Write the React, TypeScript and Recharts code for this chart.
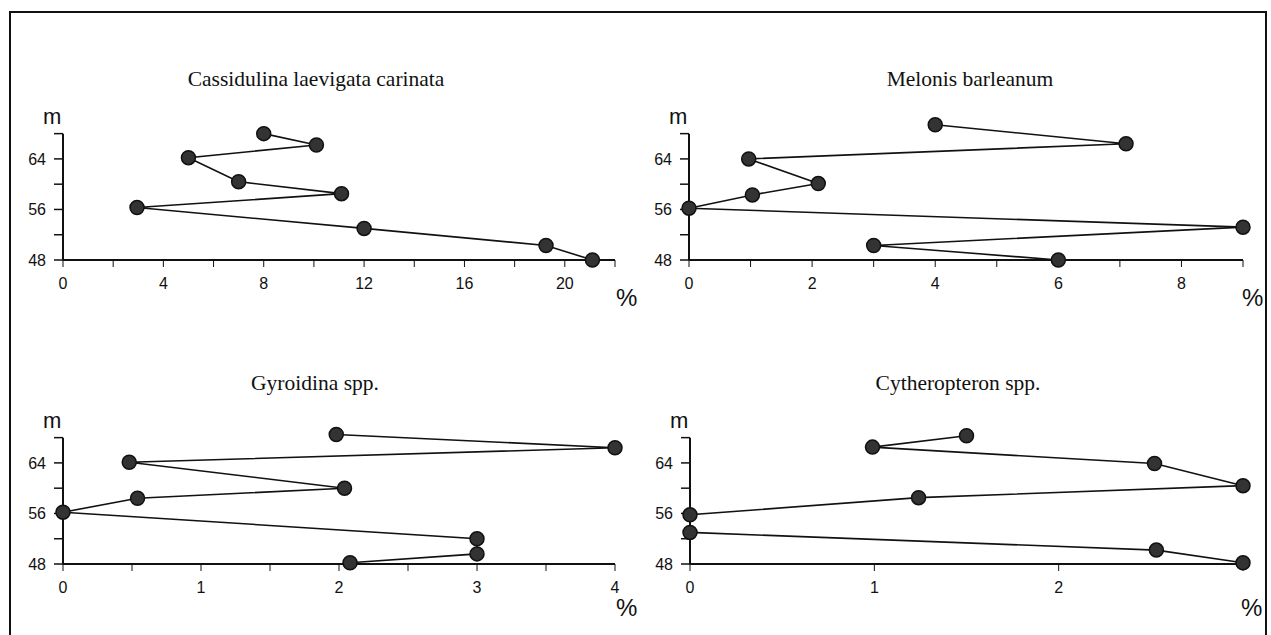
import React from "react"
import { LineChart, Line, XAxis, YAxis, ReferenceLine } from "recharts"

// depth (m) and percentage for each taxon, top sample first
const cassidulinaDepth = [68, 66.2, 64.2, 60.4, 58.5, 56.3, 53, 50.3, 48]
const cassidulinaPct = [8, 10.1, 5, 7, 11.1, 2.95, 12, 19.25, 21.1]

const melonisDepth = [69.4, 66.4, 64, 60.1, 58.3, 56.2, 53.2, 50.3, 48]
const melonisPct = [4, 7.1, 0.97, 2.1, 1.03, 0, 9, 3, 6]

const gyroidinaDepth = [68.5, 66.4, 64.1, 60, 58.4, 56.2, 52, 49.6, 48.2]
const gyroidinaPct = [1.98, 4, 0.48, 2.04, 0.54, 0, 3, 3, 2.08]

const cytheropteronDepth = [68.3, 66.5, 63.9, 60.4, 58.5, 55.8, 53, 50.2, 48.2]
const cytheropteronPct = [1.5, 0.99, 2.52, 3, 1.24, 0, 0, 2.53, 3]

const depthTicks = [48, 52, 56, 60, 64, 68]
const depthLabels = [48, 56, 64]

const cassidulinaTicks = [0, 2, 4, 6, 8, 10, 12, 14, 16, 18, 20, 22]
const cassidulinaLabels = [0, 4, 8, 12, 16, 20]
const melonisTicks = [0, 1, 2, 3, 4, 5, 6, 7, 8, 9]
const melonisLabels = [0, 2, 4, 6, 8]
const gyroidinaTicks = [0, 0.5, 1, 1.5, 2, 2.5, 3, 3.5, 4]
const gyroidinaLabels = [0, 1, 2, 3, 4]
const cytheropteronTicks = [0, 1, 2, 3]
const cytheropteronLabels = [0, 1, 2]

const sans = "'Liberation Sans', Arial, sans-serif"
const serif = "'Liberation Serif', 'Times New Roman', serif"

function rows(pct: number[], depth: number[]) {
  return pct.map((p, i) => ({ pct: p, depth: depth[i] }))
}

function Panel({ title, titleX, pct, depth, xMax, xTicks, xLabels, left, top, width, pctDx, pctDy }: any) {
  const data = rows(pct, depth)
  const H = 189
  const plotLeft = left + 50
  const plotRight = left + width - 20
  const plotTop = top + 10
  const plotBottom = top + H - 40

  const XTick = ({ x, y, payload }: any) =>
    xLabels.includes(payload.value) ? (
      <text x={x} y={y} dy="0.71em" textAnchor="middle" fontSize={16} fontFamily={sans} fill="#111">
        {payload.value}
      </text>
    ) : (
      <g />
    )

  const YTick = ({ x, y, payload }: any) =>
    depthLabels.includes(payload.value) ? (
      <text x={x} y={y} dy={6} textAnchor="end" fontSize={16} fontFamily={sans} fill="#111">
        {payload.value}
      </text>
    ) : (
      <g />
    )

  return (
    <>
      <div
        style={{
          position: "absolute",
          left: titleX - 200,
          width: 400,
          top: plotTop - 54,
          textAlign: "center",
          fontFamily: serif,
          fontSize: 21.5,
          color: "#111",
          whiteSpace: "nowrap",
        }}
      >
        {title}
      </div>
      <div style={{ position: "absolute", left: plotLeft - 20, top: plotTop - 15, fontFamily: sans, fontSize: 22, color: "#111", lineHeight: "22px" }}>
        m
      </div>
      <div
        style={{
          position: "absolute",
          left: plotRight + pctDx,
          top: plotBottom + pctDy,
          fontFamily: sans,
          fontSize: 24,
          color: "#111",
          lineHeight: "24px",
        }}
      >
        %
      </div>
      <div style={{ position: "absolute", left, top }}>
        <LineChart width={width} height={H} data={data} margin={{ top: 10, right: 20, bottom: 0, left: 0 }}>
          <XAxis
            dataKey="pct"
            type="number"
            domain={[0, xMax]}
            ticks={xTicks}
            interval={0}
            height={40}
            tickSize={7}
            tickMargin={11}
            stroke="#111"
            axisLine={{ stroke: "#111", strokeWidth: 2 }}
            tick={<XTick />}
          />
          <YAxis
            type="number"
            domain={[48, 70]}
            ticks={depthTicks}
            interval={0}
            width={50}
            tickSize={9}
            tickMargin={8}
            stroke="#111"
            axisLine={false}
            tickLine={{ stroke: "#111", strokeWidth: 1.5 }}
            tick={<YTick />}
          />
          <ReferenceLine
            segment={[
              { x: 0, y: 48 },
              { x: 0, y: 68 },
            ]}
            stroke="#111"
            strokeWidth={2}
          />
          <Line
            type="linear"
            dataKey="depth"
            stroke="#111"
            strokeWidth={1.6}
            dot={{ r: 7, fill: "#333", stroke: "#111", strokeWidth: 1.5 }}
            activeDot={false}
            isAnimationActive={false}
          />
        </LineChart>
      </div>
    </>
  )
}

export default function App() {
  return (
    <div style={{ position: "absolute", left: 0, top: 0, width: 1271, height: 635, background: "#fff", overflow: "hidden" }}>
      <div
        style={{
          position: "absolute",
          left: 9,
          top: 11,
          width: 1254,
          height: 640,
          borderLeft: "2px solid #111",
          borderTop: "2px solid #111",
          borderRight: "2px solid #111",
        }}
      />
      <Panel
        title="Cassidulina laevigata carinata"
        titleX={316}
        pct={cassidulinaPct}
        depth={cassidulinaDepth}
        xMax={22}
        xTicks={cassidulinaTicks}
        xLabels={cassidulinaLabels}
        left={13}
        top={111}
        width={622}
        pctDx={1}
        pctDy={26}
      />
      <Panel
        title="Melonis barleanum"
        titleX={970}
        pct={melonisPct}
        depth={melonisDepth}
        xMax={9}
        xTicks={melonisTicks}
        xLabels={melonisLabels}
        left={639}
        top={111}
        width={624}
        pctDx={-1}
        pctDy={26}
      />
      <Panel
        title="Gyroidina spp."
        titleX={315}
        pct={gyroidinaPct}
        depth={gyroidinaDepth}
        xMax={4}
        xTicks={gyroidinaTicks}
        xLabels={gyroidinaLabels}
        left={13}
        top={415}
        width={622}
        pctDx={1}
        pctDy={32}
      />
      <Panel
        title="Cytheropteron spp."
        titleX={958}
        pct={cytheropteronPct}
        depth={cytheropteronDepth}
        xMax={3}
        xTicks={cytheropteronTicks}
        xLabels={cytheropteronLabels}
        left={640}
        top={415}
        width={623}
        pctDx={-2}
        pctDy={32}
      />
    </div>
  )
}
